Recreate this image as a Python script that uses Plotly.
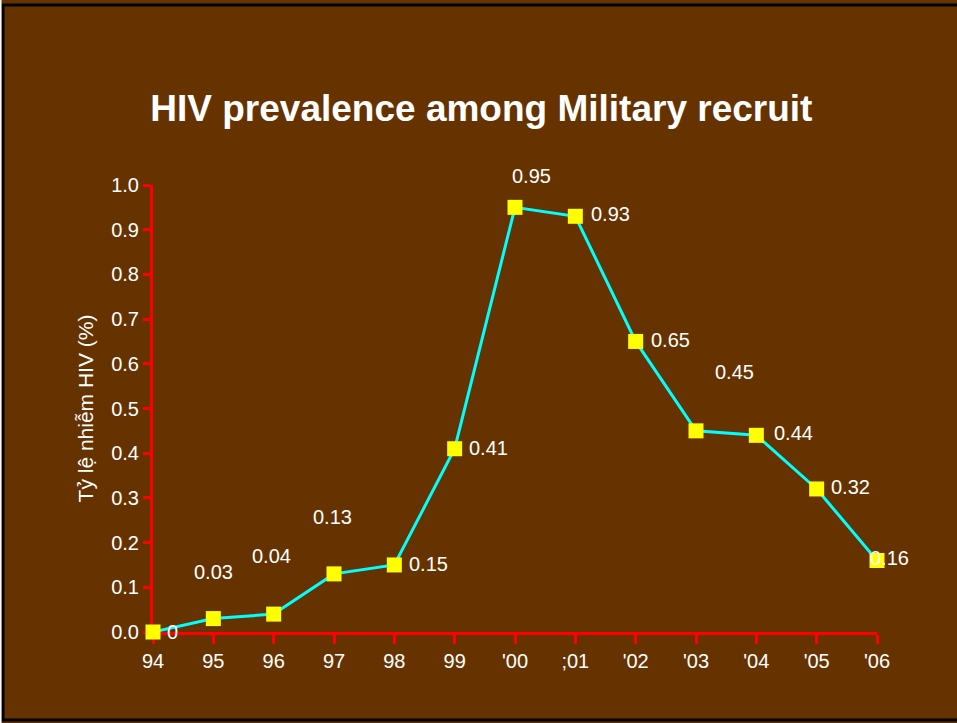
import plotly.graph_objects as go

# --------------------------------------------
# Data
# --------------------------------------------
years = ["94", "95", "96", "97", "98", "99", "'00", ";01", "'02", "'03", "'04", "'05", "'06"]
prevalence = [0, 0.03, 0.04, 0.13, 0.15, 0.41, 0.95, 0.93, 0.65, 0.45, 0.44, 0.32, 0.16]
y_ticks = [0.0, 0.1, 0.2, 0.3, 0.4, 0.5, 0.6, 0.7, 0.8, 0.9, 1.0]

# label offsets in pixels (style only)
label_shift = [
    (19, 0), (0, 47), (-2, 58), (-2, 57), (34, 1), (34, 1),
    (16, 31), (35, 2), (35, 1), (38, 59), (37, 2), (34, 2), (12, 2),
]

BG = "#663300"
WHITE = "#FFFFFF"
RED = "#FF0000"
FONT = "Liberation Sans, Arial, sans-serif"

x_idx = list(range(len(years)))

fig = go.Figure()
fig.add_trace(go.Scatter(
    x=x_idx,
    y=prevalence,
    mode="lines+markers",
    line=dict(color="#00FFFF", width=3),
    marker=dict(symbol="square", size=15, color="#FFFF00"),
    cliponaxis=False,
    showlegend=False,
    hoverinfo="skip",
))

annotations = []
for i, v in enumerate(prevalence):
    dx, dy = label_shift[i]
    annotations.append(dict(
        x=i, y=v, xref="x", yref="y",
        text=f"{v:g}",
        showarrow=False,
        xshift=dx, yshift=dy,
        font=dict(family=FONT, size=20, color=WHITE),
    ))

# slide frame (black border, thin white strip on the far left)
shapes = [
    dict(type="rect", xref="paper", yref="paper",
         x0=-0.2072, x1=1.12, y0=-0.1969, y1=1.4027,
         line=dict(color="#000000", width=3), layer="below"),
    dict(type="rect", xref="paper", yref="paper",
         x0=-0.2113, x1=-0.2092, y0=-0.25, y1=1.45,
         fillcolor=WHITE, line=dict(width=0), layer="below"),
]

fig.update_layout(
    width=957, height=723,
    margin=dict(l=153, r=80, t=185, b=91),
    paper_bgcolor=BG,
    plot_bgcolor=BG,
    font=dict(family=FONT, color=WHITE, size=20),
    title=dict(
        text="<b>HIV prevalence among Military recruit</b>",
        x=0.503, xanchor="center", y=0.851, yanchor="middle",
        font=dict(family=FONT, size=37, color=WHITE),
    ),
    xaxis=dict(
        range=[0, 12],
        tickmode="array", tickvals=x_idx, ticktext=years,
        showgrid=False, zeroline=False,
        showline=True, linecolor=RED, linewidth=3,
        ticks="outside", tickcolor=RED, tickwidth=3, ticklen=9,
        tickfont=dict(family=FONT, size=20, color=WHITE),
        layer="below traces",
        fixedrange=True,
    ),
    yaxis=dict(
        range=[0, 1.0],
        tickmode="array", tickvals=y_ticks,
        ticktext=[f"{t:.1f}" for t in y_ticks],
        showgrid=False, zeroline=False,
        showline=True, linecolor=RED, linewidth=3,
        ticks="outside", tickcolor=RED, tickwidth=3, ticklen=7,
        tickfont=dict(family=FONT, size=20, color=WHITE),
        title=dict(text="Tỷ lệ nhiễm HIV (%)", standoff=12,
                   font=dict(family=FONT, size=21, color=WHITE)),
        layer="below traces",
        fixedrange=True,
    ),
    annotations=annotations,
    shapes=shapes,
)

# the slide starts at the very top-left corner of the page
fig.write_html(
    "out.html",
    config={"displayModeBar": False},
    post_script="document.body.style.margin='0';",
)
